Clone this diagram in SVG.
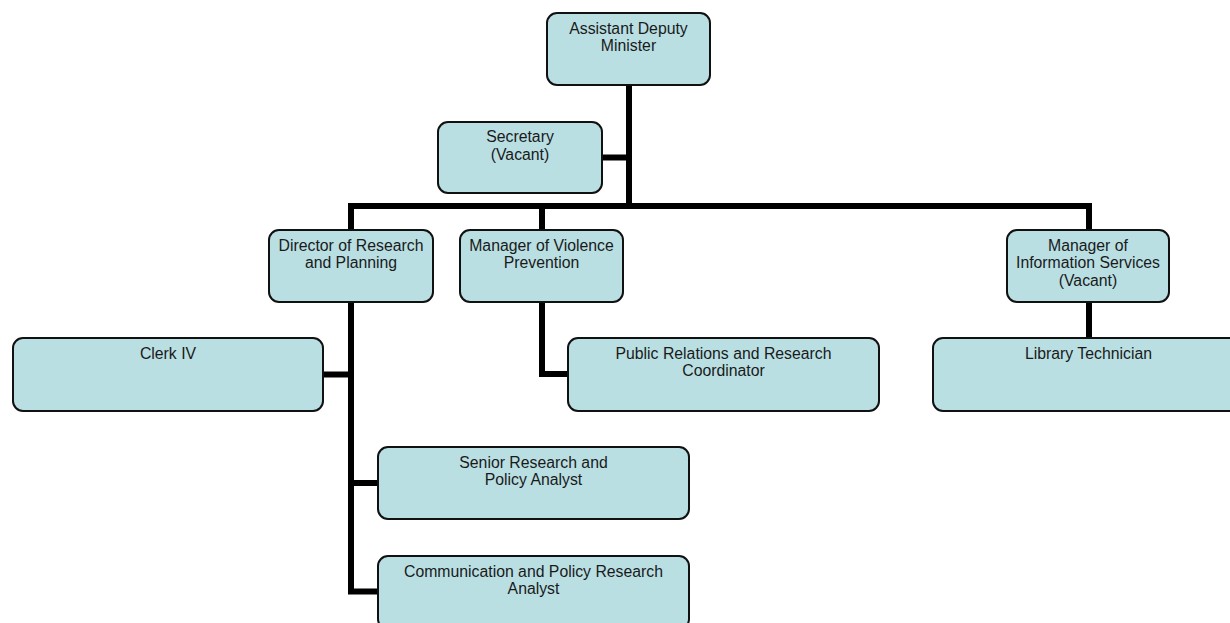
<svg xmlns="http://www.w3.org/2000/svg" width="1230" height="623" viewBox="0 0 1230 623">
<style>
.box{fill:#b9dfe3;stroke:#111;stroke-width:2}
.t{font-family:"Liberation Sans",Arial,sans-serif;font-size:15.8px;fill:#1a1a1a;text-anchor:middle}
.c{fill:none;stroke:#000;stroke-width:6;stroke-linejoin:miter;stroke-linecap:butt}
</style>
<rect width="1230" height="623" fill="#fff"/>
<g id="connectors">
<path class="c" d="M629,85 V209"/>
<path class="c" d="M602,157.5 H629"/>
<path class="c" d="M351,230 V206 H1089 V230"/>
<path class="c" d="M542,206 V230"/>
<path class="c" d="M351,302 V591.5 H378"/>
<path class="c" d="M323,374.5 H351"/>
<path class="c" d="M351,483 H378"/>
<path class="c" d="M542,302 V374 H568"/>
<path class="c" d="M1089,302 V338"/>
</g>
<g id="adm">
<rect class="box" x="547" y="13" width="163" height="72" rx="10"/>
<text class="t" x="628.5" y="33.5">Assistant Deputy</text>
<text class="t" x="628.5" y="51">Minister</text>
</g>
<g id="secretary">
<rect class="box" x="438" y="122" width="164" height="71" rx="10"/>
<text class="t" x="520" y="142">Secretary</text>
<text class="t" x="520" y="159.5">(Vacant)</text>
</g>
<g id="director">
<rect class="box" x="269" y="230" width="164" height="72" rx="10"/>
<text class="t" x="351" y="250.5">Director of Research</text>
<text class="t" x="351" y="268">and Planning</text>
</g>
<g id="violence">
<rect class="box" x="460" y="230" width="163" height="72" rx="10"/>
<text class="t" x="541.5" y="250.5">Manager of Violence</text>
<text class="t" x="541.5" y="268">Prevention</text>
</g>
<g id="info">
<rect class="box" x="1007" y="230" width="162" height="72" rx="10"/>
<text class="t" x="1088" y="250.5">Manager of</text>
<text class="t" x="1088" y="268">Information Services</text>
<text class="t" x="1088" y="285.5">(Vacant)</text>
</g>
<g id="clerk">
<rect class="box" x="13" y="338" width="310" height="73" rx="10"/>
<text class="t" x="168" y="358.5">Clerk IV</text>
</g>
<g id="pr">
<rect class="box" x="568" y="338" width="311" height="73" rx="10"/>
<text class="t" x="723.5" y="358.5">Public Relations and Research</text>
<text class="t" x="723.5" y="376">Coordinator</text>
</g>
<g id="library">
<rect class="box" x="933" y="338" width="311" height="73" rx="10"/>
<text class="t" x="1088.5" y="358.5">Library Technician</text>
</g>
<g id="senior">
<rect class="box" x="378" y="447" width="311" height="72" rx="10"/>
<text class="t" x="533.5" y="467.5">Senior Research and</text>
<text class="t" x="533.5" y="485">Policy Analyst</text>
</g>
<g id="communication">
<rect class="box" x="378" y="556" width="311" height="73" rx="10"/>
<text class="t" x="533.5" y="576.5">Communication and Policy Research</text>
<text class="t" x="533.5" y="594">Analyst</text>
</g>
</svg>
